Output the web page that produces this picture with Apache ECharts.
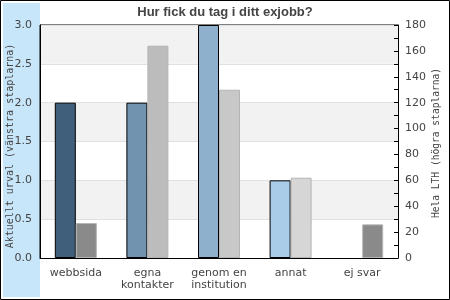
<!DOCTYPE html>
<html>
<head>
<meta charset="utf-8">
<script src="https://cdn.jsdelivr.net/npm/echarts@6/dist/echarts.min.js"></script>
<style>
html,body{margin:0;padding:0;background:#fff;}
#c{width:450px;height:300px;}
</style>
</head>
<body>
<div id="c"></div>
<script>
const categories = ['webbsida', 'egna\nkontakter', 'genom en\ninstitution', 'annat', 'ej svar'];
const currentValues = [2, 2, 3, 1, 0];
const lthValues = [27, 164, 130, 62, 26];
const leftTicks = { min: 0, max: 3, interval: 0.5 };
const rightTicks = { min: 0, max: 180, interval: 20 };
const leftAxisName = 'Aktuellt urval (vänstra staplarna)';
const rightAxisName = 'Hela LTH (högra staplarna)';

const currentColors = ['#3f5f7a', '#7193b0', '#8fb0cc', '#a9cde8', '#a9cde8'];
const lthColors = ['#8a8a8a', '#bcbcbc', '#c8c8c8', '#d6d6d6', '#8a8a8a'];

const chart = echarts.init(document.getElementById('c'), null, { renderer: 'canvas' });
const txt = '#444444';
chart.setOption({
  animation: false,
  backgroundColor: '#ffffff',
  title: {
    text: 'Hur fick du tag i ditt exjobb?',
    left: 'center',
    top: 1,
    textStyle: { fontFamily: 'Liberation Sans, Arial, sans-serif', fontSize: 13, fontWeight: 'bold', color: txt }
  },
  graphic: [
    { type: 'rect', z: -10, silent: true, shape: { x: 3, y: 3, width: 37, height: 294 }, style: { fill: '#c8e6fa' } },
    { type: 'rect', z: 100, silent: true, shape: { x: 0.5, y: 0.5, width: 449, height: 299 }, style: { fill: null, stroke: '#000', lineWidth: 1 } },
    { type: 'text', z: 50, silent: true, x: 10, y: 146, rotation: Math.PI / 2,
      style: { text: leftAxisName, align: 'center', verticalAlign: 'middle', font: '10px "DejaVu Sans Mono"', fill: txt } },
    { type: 'text', z: 50, silent: true, x: 436, y: 143, rotation: Math.PI / 2,
      style: { text: rightAxisName, align: 'center', verticalAlign: 'middle', font: '9.6px "DejaVu Sans Mono"', fill: txt } }
  ],
  grid: { left: 40, right: 52, top: 25, bottom: 42, show: true, borderColor: '#000', borderWidth: 1, backgroundColor: 'transparent', containLabel: false, outerBoundsMode: 'none' },
  xAxis: {
    type: 'category',
    data: categories,
    axisLine: { show: true, lineStyle: { color: '#000' } },
    axisTick: { show: false },
    axisLabel: { color: txt, fontFamily: 'DejaVu Sans', fontSize: 11, margin: 9, lineHeight: 12, interval: 0 },
    splitLine: { show: false }
  },
  yAxis: [
    {
      type: 'value', position: 'left',
      min: leftTicks.min, max: leftTicks.max, interval: leftTicks.interval,
      axisLine: { show: true, lineStyle: { color: '#000' } },
      axisTick: { show: false },
      axisLabel: { color: txt, fontFamily: 'DejaVu Sans', fontSize: 11, margin: 8, formatter: v => v.toFixed(1) },
      splitLine: { show: true, lineStyle: { color: '#e0e0e0', width: 1 } },
      splitArea: { show: true, areaStyle: { color: ['#ffffff', '#f2f2f2'] } }
    },
    {
      type: 'value', position: 'right',
      min: rightTicks.min, max: rightTicks.max, interval: rightTicks.interval,
      axisLine: { show: true, lineStyle: { color: '#000' } },
      axisTick: { show: true, inside: true, length: 4, lineStyle: { color: '#000' } },
      minorTick: { show: true, splitNumber: 2, length: 4, lineStyle: { color: '#000' } },
      axisLabel: { color: txt, fontFamily: 'DejaVu Sans', fontSize: 11, margin: 7 },
      splitLine: { show: false }
    }
  ],
  series: [
    {
      type: 'bar', yAxisIndex: 0, barWidth: 21, barGap: '0%',
      data: currentValues.map((v, i) => ({ value: v, itemStyle: { color: currentColors[i], borderWidth: v === 0 ? 0 : 1 } })),
      itemStyle: { borderColor: '#000', borderWidth: 1 }
    },
    {
      type: 'bar', yAxisIndex: 1, barWidth: 21, barGap: '0%',
      data: lthValues.map((v, i) => ({ value: v, itemStyle: { color: lthColors[i] } })),
      itemStyle: { borderColor: '#b4b4b4', borderWidth: 1 }
    }
  ]
});
</script>
</body>
</html>
